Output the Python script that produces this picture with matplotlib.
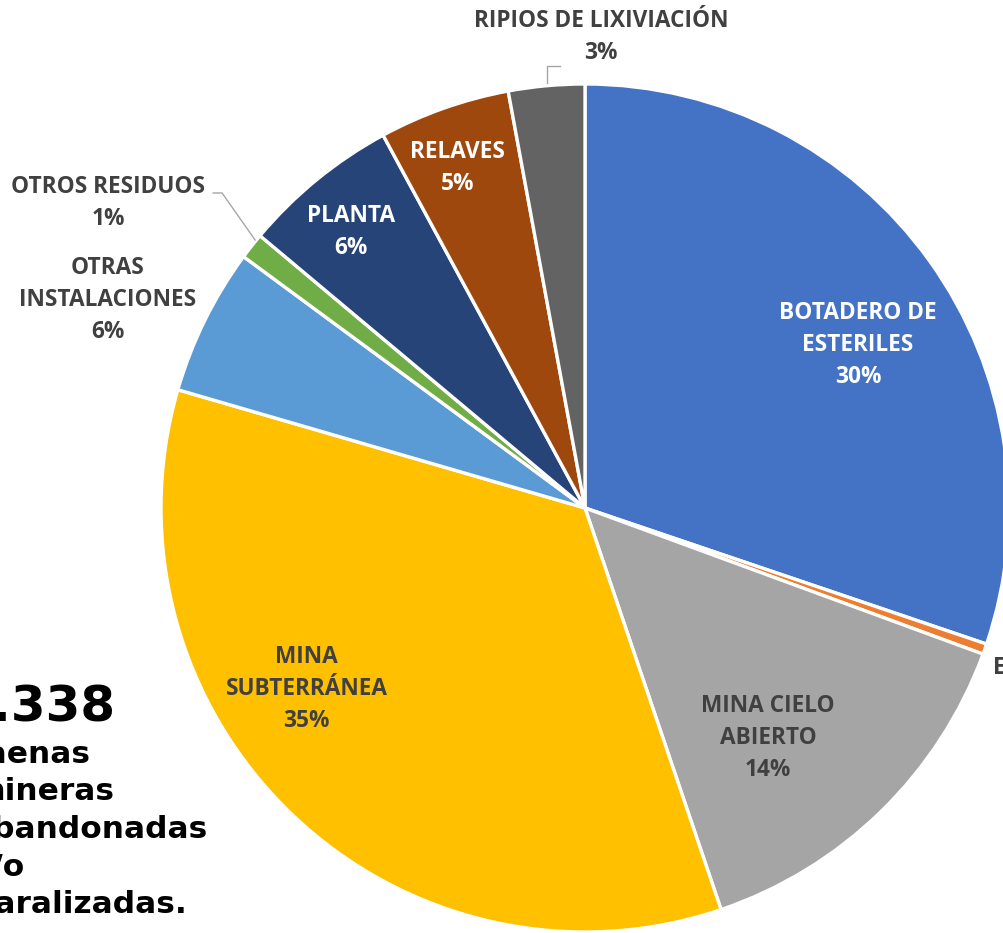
import numpy as np
import matplotlib.pyplot as plt

# datos del grafico (porcentaje por tipo de instalacion)
categorias = ['BOTADERO DE\nESTERILES', 'EXPLORACIÓN', 'MINA CIELO\nABIERTO', 'MINA\nSUBTERRÁNEA',
              'OTRAS\nINSTALACIONES', 'OTROS RESIDUOS', 'PLANTA', 'RELAVES', 'RIPIOS DE LIXIVIACIÓN']
valores = [30.2, 0.4, 14.2, 34.7, 5.6, 1.0, 6.0, 5.0, 2.9]
colores = ['#4472C4', '#ED7D31', '#A5A5A5', '#FFC000', '#5B9BD5',
           '#70AD47', '#264478', '#9E480E', '#636363']
total_faenas = '7.338'
texto_faenas = ['faenas', 'mineras', 'abandonadas', 'y/o', 'paralizadas.']

# posiciones de las etiquetas (coordenadas del eje, radio = 1)
pos_etiquetas = [(0.644, 0.384), (0.962, -0.415), (0.432, -0.542), (-0.656, -0.427),
                 (-1.125, 0.491), (-1.125, 0.719), (-0.552, 0.651), (-0.300, 0.802),
                 (0.038, 1.111)]
color_texto = ['white', '#404040', '#404040', '#404040', '#404040',
               '#404040', 'white', 'white', '#404040']

W, H = 1004, 933
fig = plt.figure(figsize=(W / 100, H / 100), dpi=100)
cx, cy, R = 585, 508, 424
ax = fig.add_axes([(cx - R) / W, (H - cy - R) / H, 2 * R / W, 2 * R / H])

wedges, _ = ax.pie(valores, colors=colores, startangle=90, counterclock=False, radius=1,
                   wedgeprops=dict(edgecolor='white', linewidth=2.4))
for w in wedges:
    w.set_clip_on(False)
ax.set_xlim(-1, 1)
ax.set_ylim(-1, 1)
ax.axis('off')

for i, (cat, v) in enumerate(zip(categorias, valores)):
    x, y = pos_etiquetas[i]
    txt = cat + '\n' + '%d%%' % round(v)
    ha = 'left' if i == 1 else 'center'
    ax.text(x, y, txt, ha=ha, va='center', fontsize=16.3, fontweight='bold',
            family='Open Sans', color=color_texto[i], linespacing=1.45,
            multialignment='center')

# lineas guia
ax.plot([-0.877, -0.856, -0.778], [0.743, 0.743, 0.632], color='#A6A6A6', lw=1, clip_on=False)
ax.plot([-0.090, -0.090, -0.059], [1.002, 1.042, 1.042], color='#A6A6A6', lw=1, clip_on=False)

# texto de la izquierda
fig.text(-42 / W, 1 - 722 / H, total_faenas, fontsize=36, fontweight='bold',
         family='DejaVu Sans', ha='left', va='baseline', color='black')
for k, linea in enumerate(texto_faenas):
    fig.text(-28 / W, 1 - (763 + 37.5 * k) / H, linea, fontsize=22.5, fontweight='bold',
             family='DejaVu Sans', ha='left', va='baseline', color='black')

fig.savefig('out.png', dpi=100)
